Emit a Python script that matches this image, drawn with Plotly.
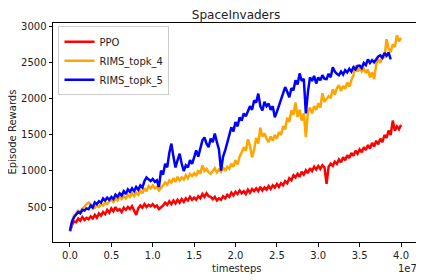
import numpy as np
import plotly.graph_objects as go

# timesteps sampled every 2.5e5
step = 2.5e5

ppo = [160, 250, 300, 290, 340, 310, 360, 320, 350, 330,
       370, 340, 390, 350, 410, 380, 430, 400, 460, 420,
       480, 440, 500, 450, 470, 430, 490, 460, 500, 470,
       510, 450, 390, 480, 520, 490, 540, 500, 530, 510,
       540, 500, 520, 470, 490, 520, 560, 530, 580, 540,
       590, 550, 600, 560, 610, 570, 620, 590, 640, 600,
       630, 600, 650, 620, 680, 640, 690, 650, 640, 610,
       640, 590, 620, 600, 650, 620, 670, 640, 700, 660,
       710, 680, 730, 690, 720, 680, 740, 700, 750, 720,
       760, 720, 780, 730, 770, 740, 790, 750, 800, 770,
       820, 780, 830, 800, 860, 830, 900, 870, 940, 910,
       960, 920, 990, 950, 1010, 970, 1040, 1000, 1060, 1020,
       1070, 1030, 1080, 1050, 820, 1060, 1100, 1070, 1130, 1100,
       1160, 1120, 1190, 1150, 1220, 1180, 1250, 1210, 1280, 1240,
       1300, 1260, 1330, 1290, 1360, 1310, 1390, 1340, 1420, 1370,
       1450, 1400, 1500, 1460, 1560, 1500, 1700, 1560, 1620, 1580,
       1640]

rims4 = [160, 300, 380, 420, 450, 430, 480, 500, 540, 560,
         540, 510, 490, 520, 500, 540, 520, 560, 540, 580,
         600, 570, 620, 590, 640, 610, 650, 620, 670, 640,
         690, 650, 700, 670, 730, 690, 760, 720, 790, 760,
         800, 760, 780, 730, 760, 800, 840, 810, 870, 840,
         900, 850, 920, 870, 910, 880, 940, 900, 960, 930,
         970, 930, 1010, 960, 1080, 1000, 1030, 980, 960, 1000,
         1040, 980, 1020, 990, 1050, 1000, 1060, 1030, 1100, 1060,
         1150, 1090, 1200, 1260, 1330, 1280, 1440, 1350, 1190, 1300,
         1460, 1380, 1600, 1480, 1520, 1450, 1400, 1480, 1420, 1500,
         1450, 1540, 1500, 1620, 1580, 1740, 1680, 1840, 1780, 1950,
         1750, 1850, 1700, 1800, 1470, 1820, 1880, 1800, 1900, 1850,
         1940, 1880, 2080, 1960, 1995, 2040, 2010, 2135, 2060, 2150,
         2190, 2110, 2180, 2140, 2230, 2170, 2260, 2330, 2470, 2380,
         2440, 2380, 2420, 2360, 2410, 2300, 2370, 2275, 2480, 2550,
         2500, 2600, 2570, 2830, 2700, 2650, 2760, 2720, 2885, 2800,
         2850]

rims5 = [170, 300, 360, 400, 430, 410, 460, 450, 480, 470,
         520, 490, 565, 540, 580, 560, 620, 590, 630, 600,
         640, 610, 670, 640, 690, 660, 720, 680, 745, 710,
         760, 720, 780, 740, 800, 770, 860, 910, 880, 860,
         890, 850, 870, 775, 1005, 950, 1100, 1050, 1250, 1380,
         1200, 1050, 1150, 1240, 1100, 1000, 1080, 1050, 1150, 1100,
         1190, 1285, 1200, 1300, 1425, 1465, 1380, 1330, 1450, 1400,
         1520, 1400, 1300, 1005, 1200, 1285, 1400, 1500, 1605, 1550,
         1680, 1620, 1745, 1700, 1800, 1760, 1840, 1900, 1850, 1980,
         1950, 2075, 1900, 1840, 1960, 1900, 1935, 1850, 1900, 1745,
         1820, 1900, 1980, 2080, 2165, 2100, 2025, 2150, 2120, 2260,
         2200, 2355, 2250, 2280, 1800, 2100, 2300, 2250, 2320, 2215,
         2300, 2260, 2330, 2280, 2275, 2350, 2300, 2440, 2380, 2350,
         2330, 2380, 2340, 2400, 2370, 2420, 2380, 2440, 2410, 2460,
         2465, 2430, 2500, 2470, 2550, 2500, 2540, 2510, 2560, 2590,
         2605, 2570, 2640, 2600, 2645, 2550]

series = [("PPO", ppo, "red"),
          ("RIMS_topk_4", rims4, "orange"),
          ("RIMS_topk_5", rims5, "blue")]

xtick_vals = [0, 5e6, 1e7, 1.5e7, 2e7, 2.5e7, 3e7, 3.5e7, 4e7]
xtick_text = ["0.0", "0.5", "1.0", "1.5", "2.0", "2.5", "3.0", "3.5", "4.0"]
ytick_vals = [500, 1000, 1500, 2000, 2500, 3000]

fig = go.Figure()
for name, vals, color in series:
    xs = np.arange(len(vals)) * step
    fig.add_trace(go.Scatter(x=xs, y=vals, mode="lines", name=name,
                             line=dict(color=color, width=2.5)))

font = "DejaVu Sans, sans-serif"
txt = "#222"
axis_common = dict(showline=True, linecolor="black", linewidth=1, mirror=True,
                   ticks="outside", ticklen=3.5, tickcolor="black", tickwidth=1,
                   showgrid=False, zeroline=False, automargin=False,
                   tickfont=dict(family=font, size=10, color=txt))

# page body has an 8px default margin, so the figure is 8px smaller and margins shifted
W, H = 416, 272
fig.update_layout(
    width=W, height=H,
    margin=dict(l=45, r=5, t=15, b=38),
    plot_bgcolor="white", paper_bgcolor="white",
    font=dict(family=font, size=10, color=txt),
    title=dict(text="SpaceInvaders", xref="paper", x=0.5, xanchor="center",
               yref="container", y=1 - 7 / H, yanchor="middle",
               font=dict(family=font, size=12, color=txt)),
    xaxis=dict(range=[-2.05e6, 4.217e7], tickvals=xtick_vals, ticktext=xtick_text,
               **axis_common),
    yaxis=dict(range=[14, 3055], tickvals=ytick_vals, **axis_common),
    legend=dict(x=0.015, y=0.985, xanchor="left", yanchor="top",
                bgcolor="rgba(255,255,255,0.8)", bordercolor="#cccccc", borderwidth=1,
                font=dict(family=font, size=10, color=txt), tracegroupgap=0),
    showlegend=True,
)
fig.add_annotation(text="timesteps", xref="paper", yref="paper", x=0.5, y=-0.12,
                   xanchor="center", yanchor="middle", showarrow=False,
                   font=dict(family=font, size=10, color=txt))
fig.add_annotation(text="Episode Rewards", xref="paper", yref="paper", x=-0.112, y=0.5,
                   xanchor="center", yanchor="middle", showarrow=False, textangle=-90,
                   font=dict(family=font, size=10, color=txt))
fig.add_annotation(text="1e7", xref="paper", yref="paper", x=1.0, y=-0.12,
                   xanchor="right", yanchor="middle", showarrow=False,
                   font=dict(family=font, size=10, color=txt))

fig.write_html("out.html")
